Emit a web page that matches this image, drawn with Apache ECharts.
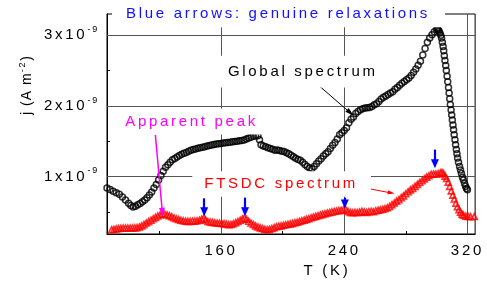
<!DOCTYPE html>
<html><head><meta charset="utf-8">
<script src="https://cdn.jsdelivr.net/npm/echarts@6/dist/echarts.min.js"></script>
<style>html,body{margin:0;padding:0;background:#fff}#c{width:487px;height:281px}</style>
</head><body><div id="c"></div>
<script>
// Current density j in units of 1e-9 A m^-2, temperature T in K
const globalSpectrum = [[86,0.836],[88,0.815],[90,0.790],[92,0.768],[94,0.748],[96,0.710],[98,0.665],[100,0.620],[101.5,0.590],[103,0.567],[104.5,0.578],[106,0.598],[107.5,0.618],[109,0.640],[110.5,0.665],[112,0.700],[113.5,0.738],[115,0.780],[116.5,0.835],[118,0.885],[119.5,0.950],[121,1.015],[122.5,1.075],[124,1.130],[125.5,1.165],[127,1.200],[128.5,1.235],[130,1.255],[131.5,1.275],[133,1.295],[134.5,1.315],[136,1.330],[137.5,1.340],[139,1.355],[140.5,1.370],[142,1.380],[143.5,1.388],[145,1.398],[146.5,1.405],[148,1.415],[149.5,1.420],[151,1.430],[152.5,1.438],[154,1.445],[155.5,1.452],[157,1.458],[158.5,1.462],[160,1.468],[161.5,1.474],[163,1.478],[164.5,1.480],[166,1.485],[167.5,1.490],[169,1.495],[170.5,1.500],[172,1.505],[173.5,1.510],[175,1.515],[176.5,1.530],[178,1.545],[179.5,1.555],[181,1.568],[182.5,1.572],[184,1.575],[185,1.520],[186,1.450],[187.5,1.430],[189,1.420],[190.5,1.405],[192,1.395],[193.5,1.385],[195,1.372],[196.5,1.376],[198,1.366],[199.5,1.355],[201,1.352],[202.5,1.335],[204,1.322],[205.5,1.300],[207,1.278],[208.5,1.258],[210,1.240],[211.5,1.228],[213,1.200],[214.5,1.170],[216,1.140],[217.5,1.120],[219,1.108],[220.5,1.140],[222,1.180],[223.5,1.220],[225,1.250],[226.5,1.290],[228,1.320],[229.5,1.350],[231,1.395],[232.5,1.440],[234,1.480],[235.5,1.530],[237,1.590],[238.5,1.620],[240,1.650],[241.5,1.690],[243,1.760],[244.5,1.810],[246,1.840],[247.5,1.890],[249,1.920],[250.5,1.945],[252,1.958],[253.5,1.968],[255,1.972],[256.5,1.976],[258,1.990],[259.5,2.015],[261,2.030],[262.5,2.060],[264,2.095],[265.5,2.120],[267,2.140],[268.5,2.160],[270,2.180],[271.5,2.200],[273,2.235],[274.5,2.260],[276,2.290],[277.5,2.320],[279,2.345],[280.5,2.370],[282,2.395],[283.5,2.430],[285,2.475],[286.5,2.520],[288,2.575],[289.5,2.630],[291,2.720],[292.5,2.810],[294,2.900],[295.5,2.960],[297,3.005],[298.5,3.050],[300,3.080],[300.6,3.089],[301.1,3.075],[301.6,3.055],[302.1,3.030],[302.7,3.000],[303.2,2.960],[303.7,2.900],[304.2,2.840],[304.6,2.780],[305.0,2.710],[305.4,2.640],[305.9,2.570],[306.3,2.500],[306.8,2.420],[307.2,2.340],[307.7,2.260],[308.1,2.180],[308.5,2.100],[308.9,2.020],[309.4,1.940],[309.8,1.870],[310.2,1.800],[310.6,1.730],[311.0,1.660],[311.4,1.590],[311.9,1.520],[312.3,1.450],[312.8,1.380],[313.2,1.320],[313.6,1.260],[314.2,1.200],[314.9,1.140],[315.5,1.090],[316.1,1.040],[316.8,0.990],[317.4,0.950],[318.1,0.900],[318.8,0.860],[319.4,0.830],[320.0,0.810]];

const ftsdcSpectrum = [[89,0.246],[90.5,0.252],[92,0.258],[93.5,0.262],[95,0.266],[96.5,0.270],[98,0.270],[99.5,0.270],[101,0.270],[102.5,0.270],[104,0.272],[105.5,0.275],[107,0.285],[108.5,0.300],[110,0.318],[111.5,0.340],[113,0.360],[114.5,0.380],[116,0.400],[117.5,0.420],[119,0.440],[120.5,0.458],[122,0.472],[123.5,0.468],[125,0.455],[126.5,0.444],[128,0.430],[129.5,0.415],[131,0.400],[132.5,0.390],[134,0.380],[135.5,0.372],[137,0.366],[138.5,0.364],[140,0.364],[141.5,0.366],[143,0.368],[144.5,0.372],[146,0.380],[147.5,0.395],[148.9,0.412],[150,0.385],[151.5,0.362],[153,0.355],[154.5,0.350],[156,0.344],[157.5,0.340],[159,0.338],[160.5,0.336],[162,0.332],[163.5,0.325],[165,0.318],[166.5,0.320],[168,0.330],[169.5,0.345],[171,0.362],[172.5,0.380],[174,0.398],[175.2,0.412],[176.5,0.395],[178,0.365],[179.5,0.340],[181,0.320],[182.5,0.300],[184,0.285],[185.5,0.272],[187,0.262],[188.5,0.252],[190,0.246],[191.5,0.250],[193,0.262],[194.5,0.275],[196,0.288],[197.5,0.295],[199,0.300],[200.5,0.308],[202,0.315],[203.5,0.322],[205,0.328],[206.5,0.336],[208,0.345],[209.5,0.352],[211,0.362],[212.5,0.372],[214,0.382],[215.5,0.392],[217,0.402],[218.5,0.415],[220,0.425],[221.5,0.435],[223,0.445],[224.5,0.455],[226,0.463],[227.5,0.472],[229,0.482],[230.5,0.490],[232,0.498],[233.5,0.504],[235,0.510],[236.5,0.516],[238,0.522],[239.5,0.529],[241,0.530],[242.5,0.505],[244,0.490],[245.5,0.485],[247,0.492],[248.5,0.488],[250,0.495],[251.5,0.505],[253,0.498],[254.5,0.490],[256,0.500],[257.5,0.508],[259,0.500],[260.5,0.515],[262,0.522],[263.5,0.528],[265,0.535],[266.5,0.545],[268,0.556],[269.5,0.575],[271,0.600],[272.5,0.625],[274,0.650],[275.5,0.672],[277,0.700],[278.5,0.725],[280,0.755],[281.5,0.783],[283,0.810],[284.5,0.830],[286,0.860],[287.5,0.888],[289,0.915],[290.5,0.940],[292,0.965],[293.5,0.990],[295,1.010],[296.5,1.030],[298,1.035],[299.5,1.035],[301,1.040],[302.5,1.050],[303.5,1.057],[304.5,1.040],[305.5,1.005],[306.5,0.970],[307.5,0.920],[308.5,0.860],[309.5,0.795],[310.5,0.735],[311.5,0.680],[312.5,0.620],[313.5,0.570],[314.5,0.530],[315.5,0.495],[316.5,0.465],[317.5,0.450],[319,0.438],[320.5,0.432],[322,0.430],[324.5,0.435]];

const xTickLabels = [160, 240, 320];
const xTicks = [120, 160, 200, 240, 280, 320];
const yTickLabels = [1, 2, 3];
const yTicks = [0.5, 1, 1.5, 2, 2.5, 3];
const xGridLines = [160, 240, 320];
const yGridLines = [1, 2, 3];

// Blue "genuine relaxation" arrows: [T, j at tail, j at head]
const relaxationArrows = [[149.1, 0.69, 0.50], [175.6, 0.70, 0.50], [240.4, 0.70, 0.61], [298.9, 1.38, 1.18]];

const FONT = '"Liberation Sans", Arial, sans-serif';
const LS_BY_SIZE = {15: 2.7, 14: 1.0, 9: 1.8};
(function () {
  const P = CanvasRenderingContext2D.prototype;
  if (!('letterSpacing' in P)) return;
  const sp = (ctx) => { const m = /(\d+(?:\.\d+)?)px/.exec(ctx.font); const s = m ? parseFloat(m[1]) : 0; return (LS_BY_SIZE[s] || 0) + 'px'; };
  ['fillText', 'strokeText', 'measureText'].forEach(fn => {
    const orig = P[fn];
    P[fn] = function (...a) { this.letterSpacing = sp(this); return orig.apply(this, a); };
  });
})();

const chart = echarts.init(document.getElementById('c'), null, {renderer: 'canvas'});

const arrowLines = relaxationArrows.map(a => [
  {coord: [a[0], a[1]], symbol: 'none'},
  {coord: [a[0], a[2]], symbol: 'triangle', symbolSize: [8, 9], lineStyle: {color: '#0000ff', width: 2.2, type: 'solid'}, itemStyle: {color: '#0000ff'}}
]);
function pointer(from, to, color, width, size) {
  return [{coord: from, symbol: 'none'}, {coord: to, symbol: 'triangle', symbolSize: size, lineStyle: {color, width, type: 'solid'}, itemStyle: {color}}];
}

const option = {
  animation: false,
  backgroundColor: '#fff',
  grid: {left: 107, right: 7, top: 14, bottom: 47, show: true, borderColor: '#000', borderWidth: 1},
  xAxis: {
    type: 'value', min: 86, max: 325,
    axisLine: {show: true, onZero: false, lineStyle: {color: '#000', width: 1}},
    axisTick: {show: true, inside: true, length: 3, customValues: xTicks, lineStyle: {color: '#000'}},
    axisLabel: {customValues: xTickLabels, color: '#000', fontSize: 15, fontFamily: FONT, margin: 8},
    splitLine: {show: false}
  },
  yAxis: {
    type: 'value', min: 0.185, max: 3.3,
    axisLine: {show: true, onZero: false, lineStyle: {color: '#000', width: 1}},
    axisTick: {show: true, inside: true, length: 3, customValues: yTicks, lineStyle: {color: '#000'}},
    axisLabel: {
      customValues: yTickLabels, margin: 8,
      formatter: v => `{b|${v}x10}{s|-9}`,
      rich: {
        b: {fontSize: 15, lineHeight: 22, fontFamily: FONT, color: '#000'},
        s: {fontSize: 9, lineHeight: 9, verticalAlign: 'top', fontFamily: FONT, color: '#000'}
      }
    },
    splitLine: {show: false}
  },
  series: [
    {
      type: 'scatter', data: [], silent: true, z: 1,
      markLine: {
        silent: true, z: 1, symbol: 'none', label: {show: false}, animation: false,
        lineStyle: {color: '#555', width: 1, type: 'solid'},
        data: xGridLines.map(v => ({xAxis: v})).concat(yGridLines.map(v => ({yAxis: v})))
      }
    },
    {
      name: 'Global spectrum', type: 'scatter', data: globalSpectrum, z: 2,
      symbol: 'circle', symbolSize: 6, emphasis: {disabled: true},
      itemStyle: {color: 'rgba(255,255,255,0)', borderColor: '#000', borderWidth: 1.5}
    },
    {
      name: 'FTSDC spectrum', type: 'scatter', data: ftsdcSpectrum, z: 3,
      symbol: 'triangle', symbolSize: 6, emphasis: {disabled: true},
      itemStyle: {color: 'rgba(255,255,255,0)', borderColor: '#ff0000', borderWidth: 1.6}
    },
    {
      type: 'scatter', data: [], silent: true, z: 4,
      markLine: {
        silent: true, z: 6, label: {show: false}, animation: false,
        lineStyle: {type: 'solid'},
        data: arrowLines.concat([
          pointer([117.4, 1.587], [121.9, 0.50], '#ff00ff', 1.5, [6, 8]),
          pointer([223.1, 2.295], [244.0, 1.90], '#000', 1, [5, 9]),
          pointer([249.2, 0.855], [270.5, 0.766], '#ff0000', 1, [4, 7])
        ])
      }
    }
  ]
};
chart.setOption(option);

function textEl(pos, text, color, padding) {
  return {
    type: 'text', x: pos[0], y: pos[1], z: 100,
    style: {text, fill: color, font: '15px ' + FONT, align: 'center', verticalAlign: 'middle',
      textAlign: 'center', textVerticalAlign: 'middle', backgroundColor: '#fff', padding}
  };
}
const px = p => chart.convertToPixel({gridIndex: 0}, p);
chart.setOption({
  graphic: [
    textEl([278.5, 13.5], 'Blue arrows: genuine relaxations', '#1010ff', [5, 15, 5, 14]),
    textEl(px([213.1, 2.483]), 'Global spectrum', '#000', [7, 10, 7, 10]),
    textEl(px([140.9, 1.775]), 'Apparent peak', '#ff00ff', [4, 8, 4, 8]),
    textEl(px([199.4, 0.893]), 'FTSDC spectrum', '#ff0000', [4, 13, 4, 12]),
    {type: 'text', x: 327, y: 270.5, z: 100,
      style: {text: 'T (K)', fill: '#000', font: '15px ' + FONT, align: 'center', verticalAlign: 'middle', textAlign: 'center', textVerticalAlign: 'middle'}},
    {type: 'text', x: 27, y: 85, rotation: Math.PI / 2, z: 100,
      style: {text: '{a|j (A m}{s|-2}{a|)}', fill: '#000', align: 'center', verticalAlign: 'middle', textAlign: 'center', textVerticalAlign: 'middle',
        rich: {a: {fontSize: 14, lineHeight: 20, fontFamily: FONT, fill: '#000', color: '#000'}, s: {fontSize: 9, lineHeight: 9, verticalAlign: 'top', fontFamily: FONT, fill: '#000', color: '#000'}}}}
  ]
});
</script>
</body></html>
